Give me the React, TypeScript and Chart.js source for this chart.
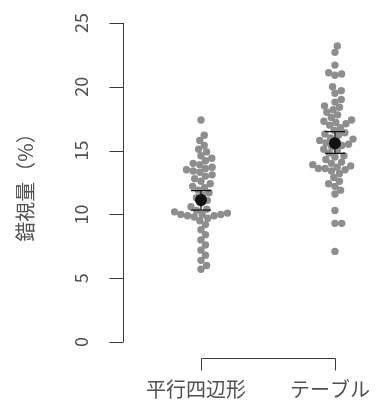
import React, { useEffect, useRef } from "react";
import { Chart, registerables } from "chart.js";

Chart.register(...registerables);

// ---- data ----
const categories = ["平行四辺形", "テーブル"];
const parallelogramValues = [
  17.4, 16.2, 15.8, 15.4, 15.1, 14.9, 14.6, 14.4, 14.2, 14.0, 13.9, 13.7, 13.6, 13.5,
  13.4, 13.3, 13.1, 13.0, 12.8, 12.6, 12.4, 12.2, 12.1, 11.9, 11.7, 11.5, 11.3, 11.1,
  10.9, 10.6, 10.4, 10.3, 10.2, 10.1, 10.0, 10.0, 10.0, 9.9, 9.9, 9.8, 9.7, 9.5, 9.2,
  8.8, 8.4, 8.0, 7.6, 7.2, 6.8, 6.4, 6.0, 5.7,
];
const tableValues = [
  23.2, 22.7, 21.7, 21.1, 21.0, 20.9, 20.0, 19.7, 19.5, 19.0, 18.8, 18.5, 18.4, 18.2,
  18.0, 17.8, 17.6, 17.4, 17.3, 17.2, 17.1, 17.0, 16.8, 16.6, 16.4, 16.3, 16.2, 16.0,
  15.9, 15.8, 15.7, 15.6, 15.5, 15.4, 15.3, 15.1, 15.0, 14.8, 14.6, 14.5, 14.3, 14.1,
  14.0, 13.9, 13.8, 13.7, 13.6, 13.6, 13.5, 13.4, 13.2, 12.9, 12.6, 12.4, 12.2, 11.9,
  11.6, 10.3, 9.3, 9.3, 7.1,
];
const groupMeans = [11.13, 15.57];
const errLower = [10.34, 14.79];
const errUpper = [11.86, 16.48];
const yTicks = [0, 5, 10, 15, 20, 25];
const yTitle = "錯視量（%）";

const FONT = '"Noto Sans CJK JP", "Noto Sans", sans-serif';
const TEXT_COLOR = "#505050";
const AXIS_COLOR = "#3a3a3a";
const POINT_COLOR = "#8e8e8e";
const POINT_R = 3.7;
const SWARM_D = 6.8;

function swarmOffsets(values: number[], yPx: (v: number) => number, d: number): number[] {
  const order = values.map((_, i) => i).sort((a, b) => values[a] - values[b]);
  const placed: { x: number; y: number }[] = [];
  const out = new Array(values.length).fill(0);
  for (const i of order) {
    const y = yPx(values[i]);
    const near = placed.filter((p) => Math.abs(p.y - y) < d);
    const cands = [0];
    for (const p of near) {
      const dx = Math.sqrt(d * d - (p.y - y) * (p.y - y));
      cands.push(p.x + dx, p.x - dx);
    }
    cands.sort((a, b) => Math.abs(a) - Math.abs(b) || b - a);
    let chosen = 0;
    for (const c of cands) {
      if (near.every((p) => (p.x - c) * (p.x - c) + (p.y - y) * (p.y - y) >= d * d - 1e-6)) {
        chosen = c;
        break;
      }
    }
    placed.push({ x: chosen, y });
    out[i] = chosen;
  }
  return out;
}

const axesPlugin = {
  id: "rAxes",
  afterDraw(chart: any) {
    const { ctx, chartArea, scales } = chart;
    const xs = scales.x;
    const ys = scales.y;
    ctx.save();
    ctx.strokeStyle = AXIS_COLOR;
    ctx.lineWidth = 1;
    // y axis
    const ax = Math.round(chartArea.left) + 0.5;
    ctx.beginPath();
    ctx.moveTo(ax, ys.getPixelForValue(yTicks[0]));
    ctx.lineTo(ax, ys.getPixelForValue(yTicks[yTicks.length - 1]));
    for (const t of yTicks) {
      const py = Math.round(ys.getPixelForValue(t)) + 0.5;
      ctx.moveTo(ax, py);
      ctx.lineTo(ax - 14, py);
    }
    ctx.stroke();
    ctx.fillStyle = TEXT_COLOR;
    ctx.font = `18px ${FONT}`;
    ctx.textAlign = "center";
    ctx.textBaseline = "middle";
    for (const t of yTicks) {
      const py = ys.getPixelForValue(t);
      ctx.save();
      ctx.translate(81, py);
      ctx.rotate(-Math.PI / 2);
      ctx.fillText(String(t), 0, 0);
      ctx.restore();
    }
    // y title
    ctx.save();
    ctx.font = `20px ${FONT}`;
    ctx.translate(25, (ys.getPixelForValue(0) + ys.getPixelForValue(25)) / 2);
    ctx.rotate(-Math.PI / 2);
    ctx.fillText(yTitle, 0, 0);
    ctx.restore();
    // x bracket
    const by = chartArea.bottom + 16.5;
    const x1 = Math.round(xs.getPixelForValue(1)) + 0.5;
    const x2 = Math.round(xs.getPixelForValue(categories.length)) + 0.5;
    ctx.beginPath();
    ctx.moveTo(x1, by + 12);
    ctx.lineTo(x1, by);
    ctx.lineTo(x2, by);
    ctx.lineTo(x2, by + 12);
    ctx.stroke();
    ctx.font = `20px ${FONT}`;
    categories.forEach((c, i) => {
      ctx.fillText(c, xs.getPixelForValue(i + 1) - 5, chartArea.bottom + 47);
    });
    ctx.restore();
  },
};

const errorBarPlugin = {
  id: "errBars",
  beforeDatasetDraw(chart: any, args: any) {
    if (args.index !== 2) return;
    const { ctx, scales } = chart;
    ctx.save();
    ctx.strokeStyle = "#111";
    ctx.lineWidth = 1.2;
    groupMeans.forEach((_, i) => {
      const px = scales.x.getPixelForValue(i + 1);
      const lo = scales.y.getPixelForValue(errLower[i]);
      const hi = scales.y.getPixelForValue(errUpper[i]);
      ctx.beginPath();
      ctx.moveTo(px, lo);
      ctx.lineTo(px, hi);
      ctx.moveTo(px - 10, lo);
      ctx.lineTo(px + 10, lo);
      ctx.moveTo(px - 10, hi);
      ctx.lineTo(px + 10, hi);
      ctx.stroke();
    });
    ctx.restore();
  },
};

export default function App() {
  const ref = useRef<HTMLCanvasElement | null>(null);
  useEffect(() => {
    if (!ref.current) return;
    const groups = [parallelogramValues, tableValues];
    const chart = new Chart(ref.current, {
      type: "scatter",
      data: {
        datasets: [
          ...groups.map((vals, g) => ({
            data: vals.map((v) => ({ x: g + 1, y: v })),
            backgroundColor: POINT_COLOR,
            borderWidth: 0,
            pointRadius: POINT_R,
            order: 2,
          })),
          {
            data: groupMeans.map((m, i) => ({ x: i + 1, y: m })),
            backgroundColor: "#111",
            borderWidth: 0,
            pointRadius: 6,
            order: 0,
          },
        ],
      },
      options: {
        animation: false,
        responsive: true,
        maintainAspectRatio: false,
        layout: { padding: { left: 123, right: 10, top: 23, bottom: 68 } },
        scales: {
          x: { type: "linear", min: 0.418, max: 2.284, display: false },
          y: { min: 0, max: 25, display: false },
        },
        plugins: { legend: { display: false }, tooltip: { enabled: false } },
      },
      plugins: [axesPlugin, errorBarPlugin],
    } as any);
    // beeswarm offsets computed in pixel space through the chart's scales
    const xs: any = chart.scales.x;
    const ys: any = chart.scales.y;
    const pxPerX = xs.getPixelForValue(2) - xs.getPixelForValue(1);
    groups.forEach((vals, g) => {
      const offs = swarmOffsets(vals, (v) => ys.getPixelForValue(v), SWARM_D);
      chart.data.datasets[g].data = vals.map((v, i) => ({ x: g + 1 + offs[i] / pxPerX, y: v }));
    });
    chart.update();
    return () => chart.destroy();
  }, []);
  return (
    <div style={{ position: "fixed", left: 0, top: 0, width: 383, height: 410, background: "#fff" }}>
      <canvas ref={ref} />
    </div>
  );
}
